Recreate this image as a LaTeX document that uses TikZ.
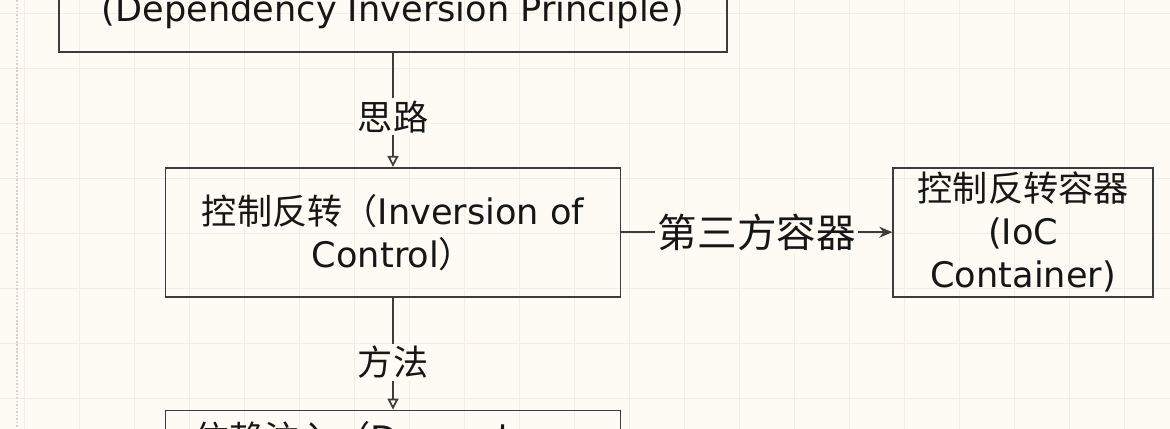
\documentclass[tikz,border=0pt]{standalone}
\usepackage{fontspec}
\setmainfont{DejaVu Sans}
\newfontfamily\cjk{Noto Sans CJK SC}
\usetikzlibrary{arrows.meta,positioning}

\definecolor{paper}{HTML}{FDFBF3}
\definecolor{gridtone}{HTML}{F3EEE3}
\definecolor{boxline}{HTML}{3C3C3C}
\definecolor{ink}{HTML}{161616}
\definecolor{edgemark}{HTML}{DCCFC8}

\begin{document}
\begin{tikzpicture}[
    x=0.02cm, y=-0.02cm,
    box/.style={draw=boxline, line width=1pt, align=center, text=ink, inner sep=2pt, font=\fontsize{20}{24.5}\selectfont},
    hint/.style={fill=paper, inner sep=1.5pt, text=ink, font=\cjk\fontsize{20}{24}\selectfont},
    arrow/.style={draw=boxline, line width=1pt, -{Triangle[open, length=2.2mm, width=2.2mm]}},
    flow/.style={draw=boxline, line width=1pt, -{Stealth[length=2.6mm, width=2.2mm]}}
]
\useasboundingbox (0,0) rectangle (1170,429);
\clip (0,0) rectangle (1170,429);
\fill[paper] (0,0) rectangle (1170,429);
\foreach \gx in {0,...,21} \draw[gridtone, line width=0.5pt] (24+55*\gx,0) -- (24+55*\gx,429);
\foreach \gy in {0,...,7} \draw[gridtone, line width=0.5pt] (0,13+55*\gy) -- (1170,13+55*\gy);
\draw[edgemark, line width=1pt, densely dotted] (17,0) -- (17,429);

\node[box, minimum width=13.36cm, minimum height=1.6cm] (dip) at (393,12) {(Dependency Inversion Principle)};
\node[box, minimum width=9.1cm, minimum height=2.58cm, below=2.28cm of dip] (ioc) {{\cjk 控制反转（}Inversion of\\Control{\cjk ）}};
\node[box, minimum width=5.2cm, minimum height=2.58cm, inner ysep=1pt, right=5.42cm of ioc] (iocc) {{\cjk 控制反转容器}\\(IoC\\Container)};
\node[box, minimum width=9.1cm, minimum height=1.2cm, below=2.24cm of ioc] (di) {{\cjk 依赖注入（}Dependency};

\draw[arrow] (dip) -- node[hint, pos=0.56] {思路} (ioc);
\draw[arrow] (ioc) -- node[hint, pos=0.58] {方法} (di);
\draw[flow] (ioc) -- node[hint, font=\cjk\fontsize{22.5}{26}\selectfont] {第三方容器} (iocc);
\end{tikzpicture}
\end{document}
